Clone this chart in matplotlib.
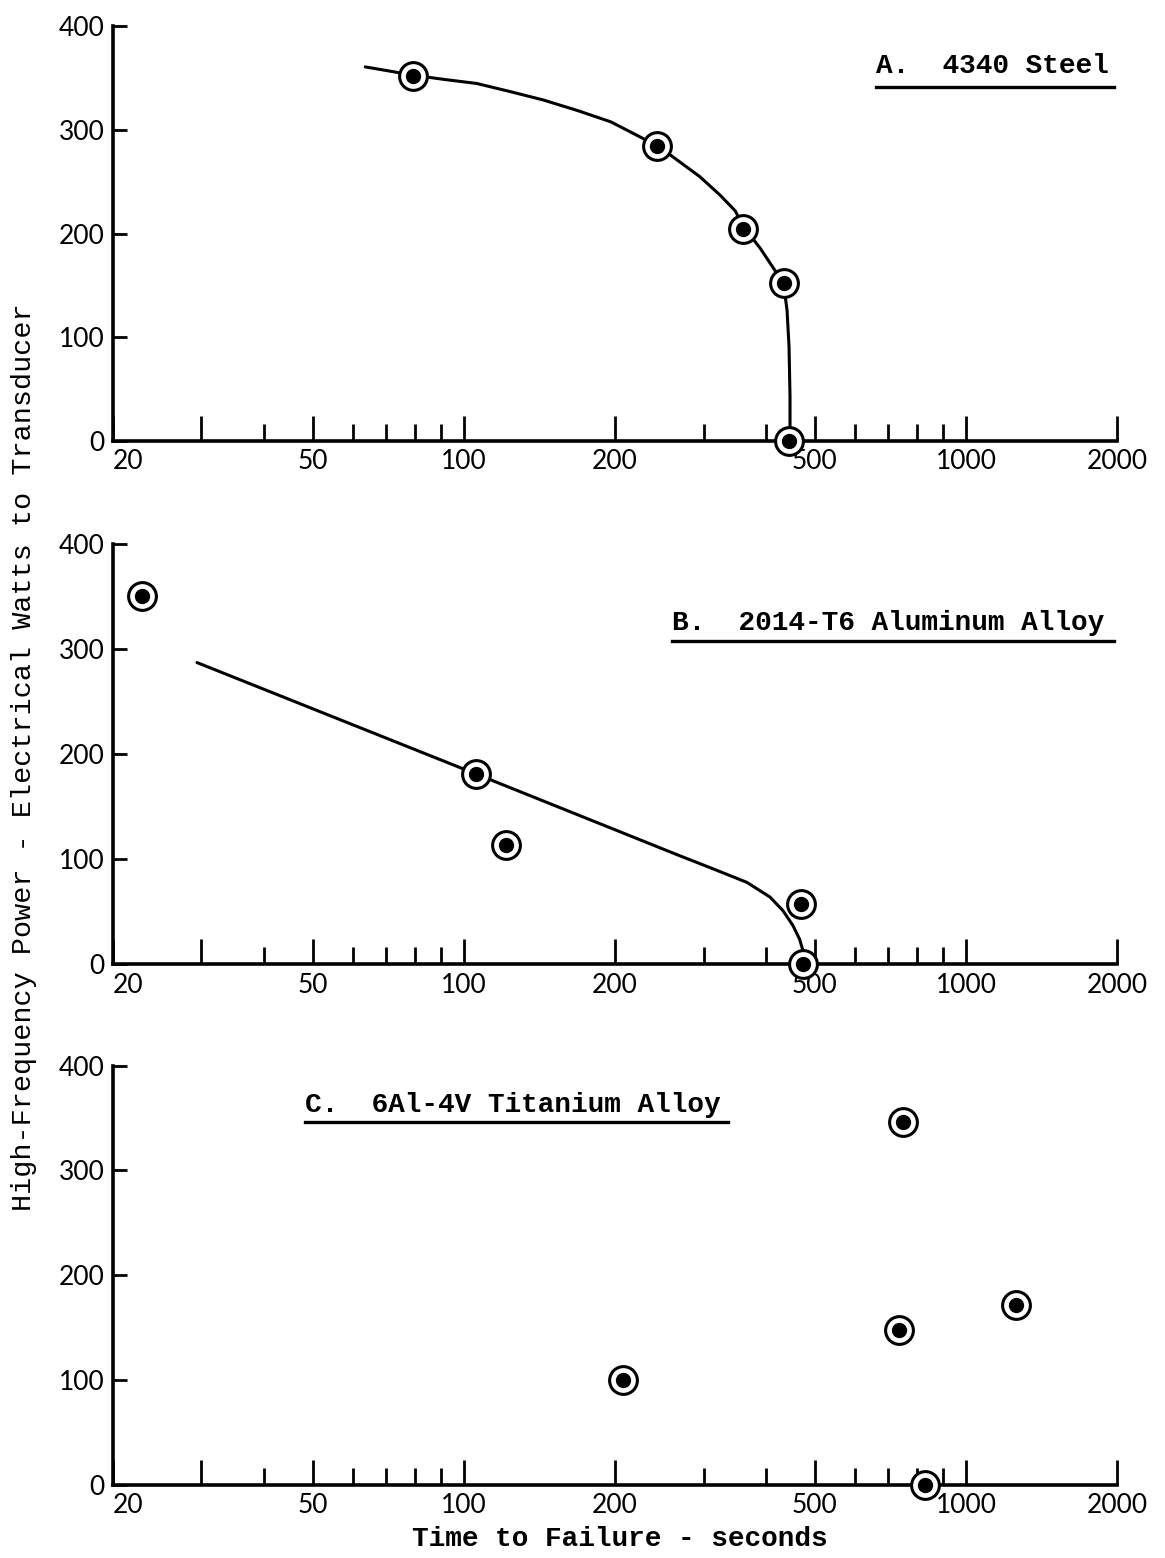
import matplotlib
matplotlib.use('Agg')
import matplotlib.pyplot as plt
from matplotlib.ticker import NullFormatter

# A. 4340 Steel - measured points and faired curve
steel_t = [79, 242, 360, 433, 444]
steel_w = [352, 285, 205, 152, 0]
steel_curve_t = [63.6, 79.3, 91, 106, 124, 144, 168, 196, 221, 242, 261, 295,
                 324, 347, 360, 389, 433, 440, 444, 446, 446]
steel_curve_w = [361, 353, 349, 345, 337, 329, 319, 308, 295, 285, 274, 255,
                 237, 222, 207, 186, 152, 126, 91, 43, 0]

# B. 2014-T6 Aluminum Alloy
alum_t = [22.8, 105.8, 121, 470, 474]
alum_w = [350, 181, 114, 57, 0]
alum_curve_t = [29.4, 105.8, 270, 313, 366, 407, 432, 452, 466, 474, 478]
alum_curve_w = [287, 181, 103, 91, 78, 64, 51, 37, 24, 12, 0]

# C. 6Al-4V Titanium Alloy (no curve)
ti_t = [207, 750, 734, 1258, 829]
ti_w = [100, 346, 148, 172, 0]

major_x = [20, 30, 50, 100, 200, 500, 1000, 2000]
major_x_labels = ['20', '', '50', '100', '200', '500', '1000', '2000']
minor_x = [40, 60, 70, 80, 90, 300, 400, 600, 700, 800, 900]
y_ticks = [0, 100, 200, 300, 400]

titles = ['A.  4340 Steel', 'B.  2014-T6 Aluminum Alloy', 'C.  6Al-4V Titanium Alloy']

fig = plt.figure(figsize=(11.65, 15.58), dpi=100)

# axes boxes [left, bottom, width, height] in figure fraction
boxes = [[0.097, 0.717, 0.862, 0.266],
         [0.097, 0.381, 0.862, 0.270],
         [0.097, 0.047, 0.862, 0.269]]
# title text position (x start, x end, text y, underline y) in axes fraction
title_pos = [(0.760, 0.997, 0.905, 0.855),
             (0.557, 0.997, 0.812, 0.769),
             (0.191, 0.612, 0.905, 0.866)]

panels = [(steel_t, steel_w, steel_curve_t, steel_curve_w),
          (alum_t, alum_w, alum_curve_t, alum_curve_w),
          (ti_t, ti_w, None, None)]

tick_font = 'Lato'
mono = 'Liberation Mono'

for i, (box, (pt_t, pt_w, ct, cw)) in enumerate(zip(boxes, panels)):
    ax = fig.add_axes(box)
    ax.set_xscale('log')
    ax.set_xlim(20, 2000)
    ax.set_ylim(0, 400)

    # faired curve
    if ct is not None:
        ax.plot(ct, cw, color='black', lw=2.2, solid_capstyle='round',
                solid_joinstyle='round', zorder=2)

    # bullseye markers: white ring with black dot
    ax.plot(pt_t, pt_w, linestyle='none', marker='o', markersize=20,
            markerfacecolor='white', markeredgecolor='black', markeredgewidth=2.2,
            clip_on=False, zorder=4)
    ax.plot(pt_t, pt_w, linestyle='none', marker='o', markersize=10,
            color='black', clip_on=False, zorder=5)

    # axes styling
    ax.spines['right'].set_visible(False)
    ax.spines['top'].set_visible(False)
    ax.spines['left'].set_linewidth(2.6)
    ax.spines['bottom'].set_linewidth(2.6)

    ax.set_xticks(major_x)
    ax.set_xticklabels(major_x_labels)
    ax.set_xticks(minor_x, minor=True)
    ax.xaxis.set_minor_formatter(NullFormatter())
    ax.set_yticks(y_ticks)
    ax.set_yticklabels([str(v) for v in y_ticks])

    ax.tick_params(axis='x', which='major', direction='in', length=18, width=2,
                   pad=6, labelsize=19)
    ax.tick_params(axis='x', which='minor', direction='in', length=12, width=2)
    ax.tick_params(axis='y', which='major', direction='in', length=10, width=2,
                   pad=6, labelsize=19)
    for lab in ax.get_xticklabels() + ax.get_yticklabels():
        lab.set_family(tick_font)
    # "20" sits just right of the corner, clear of the "0"
    ax.get_xticklabels()[0].set_horizontalalignment('left')

    # underlined panel title
    x0, x1, ty, uy = title_pos[i]
    ax.text(x0, ty, titles[i], transform=ax.transAxes, ha='left', va='center',
            family=mono, fontweight='bold', fontsize=20)
    ax.plot([x0, x1], [uy, uy], transform=ax.transAxes, color='black', lw=2.4,
            clip_on=False)

fig.text(0.021, 0.514, 'High-Frequency Power - Electrical Watts to Transducer',
         rotation=90, ha='center', va='center', family=mono, fontsize=20.5)
fig.text(0.532, 0.012, 'Time to Failure - seconds', ha='center', va='center',
         family=mono, fontweight='bold', fontsize=20)

plt.savefig('out.png', dpi=100)
